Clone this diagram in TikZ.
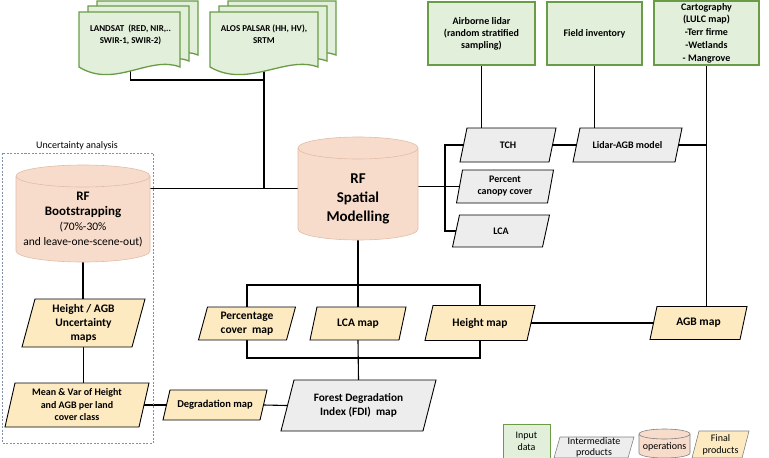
\documentclass[tikz,border=0pt]{standalone}
\usepackage{fontspec}
\setmainfont{Carlito}
\usetikzlibrary{backgrounds}
\definecolor{gfill}{HTML}{E2EFDA}
\definecolor{gdraw}{HTML}{6A9B46}
\definecolor{grfill}{HTML}{EDEDED}
\definecolor{yfill}{HTML}{FDEAC0}
\definecolor{pfill}{HTML}{F8DCCB}
\definecolor{pdraw}{HTML}{E2BCA8}
\definecolor{dashc}{HTML}{8090A8}
% parallelogram: [opts]{name}{cx}{cy}{w}{h}{skew}{style}{text}
\newcommand\para[9][]{%
  \filldraw[#8] (#3-#5/2+#7,#4-#6/2) -- (#3+#5/2+#7,#4-#6/2) -- (#3+#5/2-#7,#4+#6/2) -- (#3-#5/2-#7,#4+#6/2) -- cycle;
  \node[txt,minimum width=#5pt,minimum height=#6pt,#1] (#2) at (#3,#4) {#9};}
% cylinder: {name}{cx}{cy}{w}{h}{ry}{style}
\newcommand\cyl[7]{%
  \filldraw[#7] (#2-#4/2,#3-#5/2+#6) -- (#2-#4/2,#3+#5/2-#6) arc[start angle=180,end angle=360,x radius=#4pt/2,y radius=#6pt] -- (#2+#4/2,#3-#5/2+#6) arc[start angle=0,end angle=180,x radius=#4pt/2,y radius=#6pt] -- cycle;
  \draw[#7,fill=none] (#2-#4/2,#3-#5/2+#6) arc[start angle=180,end angle=360,x radius=#4pt/2,y radius=#6pt];
  \node[minimum width=#4pt,minimum height=#5pt,inner sep=0pt] (#1) at (#2,#3) {};}
% document: {x1}{x2}{ytop}{ybot}
\newcommand\docsh[4]{%
  \filldraw[inbox] (#1,#3) -- (#2,#3) -- (#2,#4) .. controls (#2-0.3*#2+0.3*#1,#4-12) and (#1+0.35*#2-0.35*#1,#4+22) .. (#1,#4) -- cycle;}
\begin{document}
\begin{tikzpicture}[x=1pt,y=-1pt,
  txt/.style={align=center,font=\bfseries\fontsize{10}{12}\selectfont,inner sep=0pt},
  inbox/.style={fill=gfill,draw=gdraw,line width=1.3pt},
  gpara/.style={fill=grfill,draw=black,line width=0.9pt},
  ypara/.style={fill=yfill,draw=black,line width=0.9pt},
  pcyl/.style={fill=pfill,draw=pdraw,line width=0.6pt},
  conn/.style={line width=1.1pt,black},
  mapfont/.style={font=\bfseries\fontsize{11.5}{14}\selectfont},
  legfont/.style={font=\fontsize{10}{12}\selectfont}]
\useasboundingbox (0,0) rectangle (769,458);

% uncertainty analysis frame
\draw[dashc,dash pattern=on 2pt off 1.5pt,line width=0.6pt] (2,153) rectangle (153,443);
\node[inner sep=0pt,font=\fontsize{10}{12}\selectfont] (ua) at (77,146) {Uncertainty analysis};

% input documents
\docsh{97}{198}{1}{55}
\docsh{88}{189}{6}{61}
\docsh{79}{180}{12}{67}
\node[txt,font=\bfseries\fontsize{9}{12}\selectfont] (landsat) at (130.5,35) {LANDSAT\ \ (RED, NIR,..\\SWIR-1, SWIR-2)};
\docsh{228}{336}{1}{55}
\docsh{219}{327}{6}{61}
\docsh{210}{318}{12}{67}
\node[txt,font=\bfseries\fontsize{9}{12}\selectfont] (alos) at (264,34.5) {ALOS PALSAR (HH, HV),\\SRTM};

% input boxes
\node[inbox,txt,minimum width=107pt,minimum height=63pt] (lidar) at (481.5,33.5) {Airborne lidar\\(random stratified\\sampling)};
\node[inbox,txt,minimum width=95pt,minimum height=63pt] (field) at (594.5,33.5) {Field inventory};
\node[inbox,txt,minimum width=105pt,minimum height=64pt,font=\bfseries\fontsize{10}{12.8}\selectfont] (carto) at (706.5,33) {Cartography\\(LULC map)\\-Terr firme\\-Wetlands\\- Mangrove};

% operations
\cyl{rfs}{358}{188.5}{120}{103}{11}{pcyl}
\node[txt,font=\bfseries\fontsize{15}{19}\selectfont] (rfstxt) at (358,199) {RF\\Spatial\\Modelling};
\cyl{boot}{83}{213.5}{134}{97}{11}{pcyl}
\node[align=center,inner sep=0pt,font=\fontsize{11.5}{15}\selectfont] (boottxt) at (83,220) {{\bfseries\fontsize{13}{15}\selectfont RF}\\{\bfseries\fontsize{13}{15}\selectfont Bootstrapping}\\(70\%-30\%\\and leave-one-scene-out)};

% intermediate products
\para{tch}{508}{145}{89}{34}{3.5}{gpara}{TCH}
\para{pcc}{505}{186.5}{91}{33}{3}{gpara}{Percent\\canopy cover}
\para{lca}{501}{231}{90}{32}{3.5}{gpara}{LCA}
\para{lagb}{627.5}{145}{102}{34}{3.5}{gpara}{Lidar-AGB model}
\para[font=\bfseries\fontsize{11.3}{14}\selectfont]{fdi}{358.5}{405.5}{142}{51}{6.5}{gpara}{Forest Degradation\\Index (FDI)\ \ map}

% final products
\para[mapfont]{pcm}{247}{323.5}{88}{33}{4.5}{ypara}{Percentage\\cover\ \ map}
\para[mapfont]{lcam}{358}{323.5}{89}{33}{3.5}{ypara}{LCA map}
\para[mapfont]{hm}{480}{323}{102}{35}{4}{ypara}{Height map}
\para[mapfont]{agb}{698.5}{323}{90}{33}{3.5}{ypara}{AGB map}
\para[mapfont]{hagb}{83.5}{323}{110}{48}{6.5}{ypara}{Height / AGB\\Uncertainty\\maps}
\para[font=\bfseries\fontsize{10}{12.5}\selectfont]{mv}{77}{405}{134}{44}{5}{ypara}{Mean \& Var of Height\\and AGB per land\\cover class}
\para[font=\bfseries\fontsize{10.5}{12}\selectfont]{dm}{215}{405}{97}{30}{3.5}{ypara}{Degradation map}

% legend
\node[inbox,line width=0.8pt,minimum width=47pt,minimum height=34pt,align=center,inner sep=0pt,legfont] (lgin) at (526.5,441) {Input\\data};
\para[font=\fontsize{10}{11}\selectfont]{lgim}{594}{447.5}{74}{21}{3}{fill=grfill,draw=gray,line width=0.6pt}{Intermediate\\products}
\cyl{lgop}{664.5}{443.5}{51}{29}{5}{fill=pfill,draw=gray,line width=0.6pt}
\node[inner sep=0pt,legfont] (lgoptxt) at (664.5,447) {operations};
\para[legfont]{lgfp}{720.5}{444.5}{50}{27}{3.5}{fill=yfill,draw=gray,line width=0.6pt}{Final\\products}

% connectors
\begin{scope}[on background layer]
\coordinate (busA) at (0,80);
\coordinate (busB) at (0,285);
\coordinate (busC) at (0,358);
\coordinate (bk) at (445,0);
\draw[conn] (landsat.south) -- (landsat.south |- busA) -- (alos.south |- busA);
\draw[conn] (alos.south) -- (alos.south |- rfs.west);
\draw[conn] (boot.east |- rfs.west) -- (rfs.west);
\draw[conn] (rfs.east |- pcc.west) -- (pcc.west);
\draw[conn] (tch.west) -- (bk |- tch.west) -- (bk |- lca.west) -- (lca.west);
\draw[conn] (lidar.south) -- (lidar.south |- tch.north);
\draw[conn] (field.south) -- (field.south |- lagb.north);
\draw[conn] (tch.east) -- (lagb.west);
\draw[conn] (carto.south) -- (carto.south |- agb.north);
\draw[conn] (lagb.east) -- (lagb.east -| carto.south);
\draw[conn] (hm.east) -- (agb.west);
\draw[conn] (rfs.south) -- (lcam.north);
\draw[conn] (pcm.north) -- (pcm.north |- busB) -- (hm.north |- busB) -- (hm.north);
\draw[conn] (pcm.south) -- (pcm.south |- busC) -- (hm.south |- busC) -- (hm.south);
\draw[conn] (lcam.south) -- (fdi.north);
\draw[conn] (boot.south) -- (boot.south |- hagb.north);
\draw[conn] (hagb.south) -- (hagb.south |- mv.north);
\draw[conn] (mv.east) -- (dm.west);
\draw[conn] (dm.east) -- (fdi.west);
\end{scope}
\end{tikzpicture}
\end{document}
